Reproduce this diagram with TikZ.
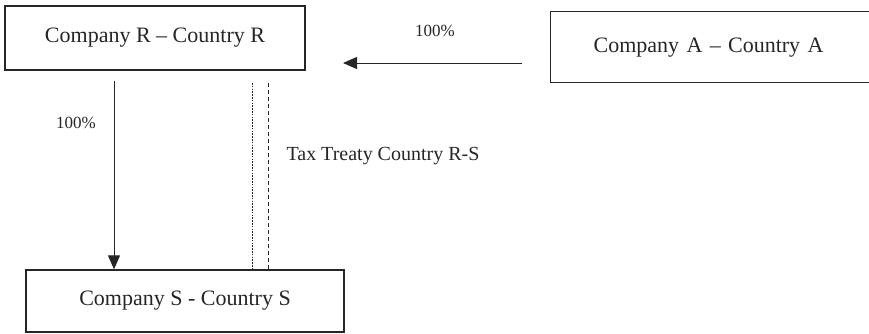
\documentclass[tikz,border=0pt]{standalone}
\usepackage{fontspec}
\setmainfont{Liberation Serif}
\usetikzlibrary{arrows.meta}
\begin{document}
\begin{tikzpicture}[x=1pt,y=-1pt,
  company/.style={draw=black!85,line width=1.3pt,inner sep=0pt,font=\fontsize{22}{25}\selectfont,text=black!85},
  owns/.style={draw=black!85,line width=1pt,-{Triangle[length=14pt,width=12pt]}},
  pct/.style={font=\fontsize{17}{19}\selectfont,text=black!85},
  treaty/.style={draw=black!85,line width=0.8pt}]
  \useasboundingbox (0,0) rectangle (869,333);
  \clip (0,0) rectangle (869,333);
  % companies
  \node[company,minimum width=300pt,minimum height=64pt] (R) at (155,38) {Company R -- Country R};
  \node[company,anchor=north west,minimum height=71pt,inner xsep=43pt,text width=246pt,align=left] (A) at (550,11) {\mbox{Company A -- Country A}};
  \node[company,minimum width=318pt,minimum height=62pt] (S) at (185,301) {Company S - Country S};
  % ownership arrows
  \coordinate (Rtop) at (114,81);
  \coordinate (Aend) at (522,63);
  \coordinate (Rend) at (343,63);
  \draw[owns] (Aend) -- (Rend);
  \draw[owns] (Rtop) -- (S.north -| Rtop);
  \node[pct] (p1) at (435,31) {100\%};
  \node[pct] (p2) at (76,123) {100\%};
  % tax treaty double line
  \coordinate (t1) at (252,83);
  \coordinate (t2) at (268,83);
  \draw[treaty,dash pattern=on 1.6pt off 1.2pt] (t1) -- (S.north -| t1);
  \draw[treaty,dash pattern=on 4pt off 3pt] (t2) -- (S.north -| t2);
  \node[font=\fontsize{20}{23}\selectfont,text=black!85,anchor=west] (tt) at (283,156) {Tax Treaty Country R-S};
\end{tikzpicture}
\end{document}
